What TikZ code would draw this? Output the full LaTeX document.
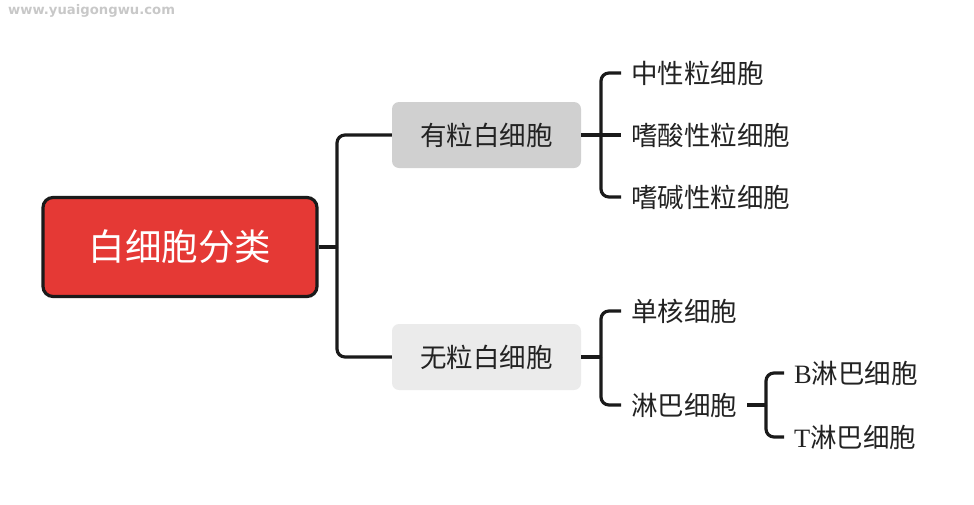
\documentclass[tikz,border=0pt]{standalone}
\usepackage{fontspec}
\setmainfont{Noto Sans CJK SC}
\newfontfamily\latinserif{Liberation Serif}
\newfontfamily\wmfont{DejaVu Sans}
\definecolor{rootred}{HTML}{E53935}
\definecolor{linec}{HTML}{1A1A1A}
\definecolor{txt}{HTML}{222222}
\definecolor{grayA}{HTML}{D0D0D0}
\definecolor{grayB}{HTML}{EBEBEB}
\definecolor{wm}{HTML}{C8C8C8}
\tikzset{
  conn/.style={draw=linec, line width=3.2pt, rounded corners=8pt},
  rootbox/.style={draw=linec, line width=3.2pt, fill=rootred, rounded corners=10pt,
    minimum width=274pt, minimum height=99pt, text=white,
    font=\fontsize{36.5}{40}\selectfont, inner sep=0pt},
  midbox/.style={rounded corners=7pt, minimum width=189pt, minimum height=66pt,
    text=txt, font=\fontsize{26.5}{28}\selectfont, inner sep=0pt},
  leaf/.style={anchor=west, inner xsep=10pt, inner ysep=0pt, text=txt,
    font=\fontsize{26.5}{28}\selectfont},
}
\begin{document}
\begin{tikzpicture}[x=1pt,y=-1pt]
\useasboundingbox (0,0) rectangle (974,504);
\node[anchor=west, text=wm, font=\wmfont\bfseries\fontsize{13.2}{14}\selectfont, inner sep=0pt] (wmk) at (8,11) {www.yuaigongwu.com};

\node[rootbox] (root) at (180,247) {白细胞分类};
\node[midbox, fill=grayA] (A) at (486.5,135) {有粒白细胞};
\node[midbox, fill=grayB] (B) at (486.5,357) {无粒白细胞};

\coordinate (j1) at (337,247);
\coordinate (j2) at (601,135);
\coordinate (j3) at (601,357);
\coordinate (j4) at (766,405);

\node[leaf] (a1) at (621,73) {中性粒细胞};
\node[leaf] (a2) at (621,135) {嗜酸性粒细胞};
\node[leaf] (a3) at (621,197) {嗜碱性粒细胞};
\node[leaf] (b1) at (621,311) {单核细胞};
\node[leaf, inner xsep=0pt] (b2) at (631,405) {淋巴细胞};
\node[leaf] (t1) at (784,373) {{\latinserif B}淋巴细胞};
\node[leaf] (t2) at (784,437) {{\latinserif T}淋巴细胞};

\draw[conn] (root.east) -- (j1);
\draw[conn] (A.west) -| (j1);
\draw[conn] (B.west) -| (j1);
\draw[conn] (A.east) -- (j2);
\draw[conn] (a1.west) -| (j2);
\draw[conn] (a3.west) -| (j2);
\draw[conn] (j2) -- (a2.west);
\draw[conn] (B.east) -- (j3);
\draw[conn] (b1.west) -| (j3);
\draw[conn] (b2.west -| 621,0) -| (j3);
\draw[conn] ([xshift=10pt]b2.east) -- (j4);
\draw[conn] (t1.west) -| (j4);
\draw[conn] (t2.west) -| (j4);
\end{tikzpicture}
\end{document}
